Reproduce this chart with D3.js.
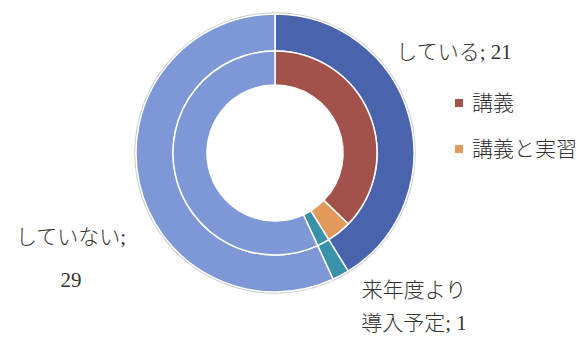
<!DOCTYPE html>
<html><head><meta charset="utf-8">
<script src="https://cdn.jsdelivr.net/npm/d3@7"></script>
<style>body{margin:0;background:#fff}svg{display:block}</style>
</head><body><svg id="c" width="587" height="338"></svg>
<script>
const outerCategories = ["している", "来年度より導入予定", "していない"];
const outerValues = [21, 1, 29];
const outerColors = ["#4a63ad", "#3a91aa", "#7e97d7"];
const innerCategories = ["講義", "講義と実習", "来年度より導入予定", "していない"];
const innerValues = [19, 2, 1, 29];
const innerColors = ["#a3514b", "#e2995b", "#3a91aa", "#7e97d7"];
const legendLabels = ["講義", "講義と実習"];
const legendColors = ["#a3514b", "#e2995b"];
const dataLabels = [
  {lines: ["している; 21"], x: 454, y: 52, gap: 0},
  {lines: ["していない;", "29"], x: 71, y: 237, gap: 43},
  {lines: ["来年度より", "導入予定; 1"], x: 414, y: 290, gap: 33}
];

const svg = d3.select("#c");
const cx = 275, cy = 153;
const R0 = 68, R1 = 102, R2 = 139;
const g = svg.append("g").attr("transform", `translate(${cx},${cy})`);
const pie = d3.pie().sort(null).value(d => d);

g.append("circle").attr("r", R2 + 1).attr("fill", "none").attr("stroke", "#c8ccd2").attr("stroke-width", 1.5);

const arcOuter = d3.arc().innerRadius(R1).outerRadius(R2);
g.selectAll("path.o").data(pie(outerValues)).join("path").attr("class", "o")
  .attr("d", arcOuter).attr("fill", (d, i) => outerColors[i])
  .attr("stroke", "#fff").attr("stroke-width", 1.5);

const arcInner = d3.arc().innerRadius(R0).outerRadius(R1);
g.selectAll("path.i").data(pie(innerValues)).join("path").attr("class", "i")
  .attr("d", arcInner).attr("fill", (d, i) => innerColors[i])
  .attr("stroke", "#fff").attr("stroke-width", 1.5);

const font = "'Liberation Serif', 'Noto Sans CJK JP', serif";
dataLabels.forEach(l => {
  const t = svg.append("text").attr("x", l.x).attr("y", l.y)
    .attr("text-anchor", "middle").attr("font-family", font)
    .attr("font-size", 21).attr("font-weight", 300).attr("fill", "#333");
  l.lines.forEach((s, i) => {
    t.append("tspan").attr("x", l.x).attr("y", l.y + i * l.gap).attr("dy", "0.35em").text(s);
  });
});

const lg = svg.append("g");
legendLabels.forEach((s, i) => {
  const y = 103 + i * 46;
  lg.append("rect").attr("x", 455).attr("y", y - 4).attr("width", 8).attr("height", 8).attr("fill", legendColors[i]);
  lg.append("text").attr("x", 472).attr("y", y).attr("dy", "0.35em")
    .attr("font-family", font).attr("font-size", 21).attr("font-weight", 300).attr("fill", "#333").text(s);
});
</script></body></html>
